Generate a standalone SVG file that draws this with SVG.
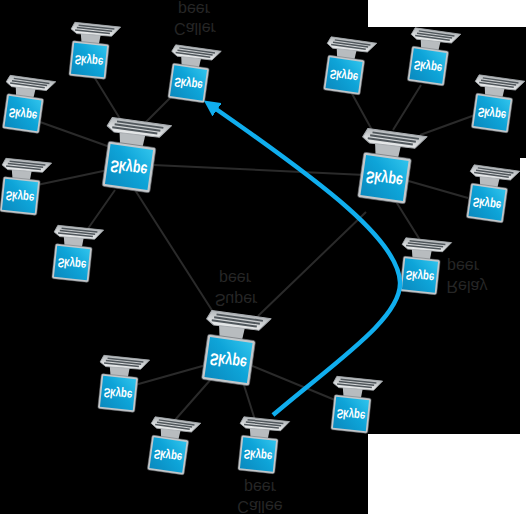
<svg xmlns="http://www.w3.org/2000/svg" xmlns:xlink="http://www.w3.org/1999/xlink" width="526" height="514" viewBox="0 0 526 514">
<style>
.c{stroke:#2a2a2a;stroke-width:2;fill:none}
.lbl{font:16px "Liberation Sans",Arial,sans-serif;fill:#262626;text-anchor:middle}
.sk{font:bold 10.500px "Liberation Sans",Arial,sans-serif;fill:#fff;text-anchor:middle}
</style>
<defs>
<linearGradient id="scr" x1="0" y1="1" x2="1" y2="0"><stop offset="0" stop-color="#0a88bd"/><stop offset=".55" stop-color="#0ea4d8"/><stop offset="1" stop-color="#33c6ee"/></linearGradient>
<linearGradient id="pan" x1="0" y1="0" x2="0" y2="1"><stop offset="0" stop-color="#b4b8bb"/><stop offset="1" stop-color="#eceeef"/></linearGradient>
<g id="pc">
<path d="M-11-26H9L8-15H-9Z" fill="#b8bcbf"/>
<path d="M-18-36L28-36 20-26-15-25-21-29Z" fill="url(#pan)" stroke="#a8acb0" stroke-width=".8" stroke-linejoin="round"/>
<path d="M-14-33.500L22-33.500M-15.500-31L20-31M-17-28.500L18-28.500" stroke="#50575c" stroke-width="1.500" fill="none"/>
<rect x="-17.500" y="-16.500" width="35" height="33" rx="1" fill="url(#scr)" stroke="#c4c8cb" stroke-width="2"/>
<rect x="-18.500" y="-17.500" width="37" height="35" rx="1.500" fill="none" stroke="#6a6e72" stroke-width=".5"/>
</g>
<marker id="ah" markerWidth="3.600" markerHeight="3.600" refX="0.500" refY="3" orient="auto" markerUnits="strokeWidth" viewBox="0 0 6 6"><path d="M0 0L6 3 0 6Z" fill="#10aeee"/></marker>
</defs>
<rect width="526" height="514" fill="#000"/>
<path d="M368 0H526V27H368ZM520 158H526V434H520ZM368 434H526V514H368Z" fill="#fff"/>
<g id="connectors">
<path class="c" d="M93 75L122 122M172 96L140 128M40 122L110 147M37 185L108 170M80 240L115 190M153 165L365 175M135 190L215 315M366 212L258 316M350 90L372 130M421 85L393 130M475 115L420 135M468 198L405 180M395 200L420 240M135 385L206 365M175 420L212 378M255 420L243 382M335 400L250 365"/>
</g>
<g id="A1" transform="translate(89 60) rotate(6)"><use href="#pc"/><text class="sk" transform="translate(0 -3.500) scale(.92 -1.250)">Skype</text></g>
<g id="Caller" transform="translate(188.500 83) rotate(8)"><use href="#pc"/><text class="sk" transform="translate(0 -3.500) scale(.92 -1.250)">Skype</text></g>
<g id="L3" transform="translate(23 113.500) rotate(8)"><use href="#pc"/><text class="sk" transform="translate(0 -3.500) scale(.92 -1.250)">Skype</text></g>
<g id="L4" transform="translate(20 196) rotate(6)"><use href="#pc"/><text class="sk" transform="translate(0 -3.500) scale(.92 -1.250)">Skype</text></g>
<g id="L5" transform="translate(72 263) rotate(6)"><use href="#pc"/><text class="sk" transform="translate(0 -3.500) scale(.92 -1.250)">Skype</text></g>
<g id="BigL" transform="translate(129 167) rotate(8) scale(1.300)"><use href="#pc"/><text class="sk" transform="translate(0 -3.500) scale(.92 -1.250)">Skype</text></g>
<g id="R1" transform="translate(344 75) rotate(8)"><use href="#pc"/><text class="sk" transform="translate(0 -3.500) scale(.92 -1.250)">Skype</text></g>
<g id="R2" transform="translate(428 66) rotate(8)"><use href="#pc"/><text class="sk" transform="translate(0 -3.500) scale(.92 -1.250)">Skype</text></g>
<g id="R3" transform="translate(492 113) rotate(8)"><use href="#pc"/><text class="sk" transform="translate(0 -3.500) scale(.92 -1.250)">Skype</text></g>
<g id="R4" transform="translate(487 203) rotate(8)"><use href="#pc"/><text class="sk" transform="translate(0 -3.500) scale(.92 -1.250)">Skype</text></g>
<g id="BigR" transform="translate(384.500 178) rotate(8) scale(1.300)"><use href="#pc"/><text class="sk" transform="translate(0 -3.500) scale(.92 -1.250)">Skype</text></g>
<g id="Relay" transform="translate(420 275.500) rotate(6)"><use href="#pc"/><text class="sk" transform="translate(0 -3.500) scale(.92 -1.250)">Skype</text></g>
<g id="BigB" transform="translate(228.500 360) rotate(8) scale(1.300)"><use href="#pc"/><text class="sk" transform="translate(0 -3.500) scale(.92 -1.250)">Skype</text></g>
<g id="B1" transform="translate(118 393) rotate(6)"><use href="#pc"/><text class="sk" transform="translate(0 -3.500) scale(.92 -1.250)">Skype</text></g>
<g id="B2" transform="translate(168 455) rotate(8)"><use href="#pc"/><text class="sk" transform="translate(0 -3.500) scale(.92 -1.250)">Skype</text></g>
<g id="Callee" transform="translate(258 454.500) rotate(6)"><use href="#pc"/><text class="sk" transform="translate(0 -3.500) scale(.92 -1.250)">Skype</text></g>
<g id="B3" transform="translate(351 414) rotate(6)"><use href="#pc"/><text class="sk" transform="translate(0 -3.500) scale(.92 -1.250)">Skype</text></g>
<g id="labels">
<text class="lbl" transform="translate(194 4) scale(1 -1)">peer</text>
<text class="lbl" transform="translate(195 23) scale(1 -1)">Caller</text>
<text class="lbl" transform="translate(235 273) scale(1 -1)">peer</text>
<text class="lbl" transform="translate(236 294) scale(1 -1)">Super</text>
<text class="lbl" transform="translate(260 482) scale(1 -1)">peer</text>
<text class="lbl" transform="translate(260 501) scale(1 -1)">Callee</text>
<text class="lbl" transform="translate(463 261) scale(1 -1)">peer</text>
<text class="lbl" transform="translate(467 281) scale(1 -1)">Relay</text>
</g>
<g id="arrow"><path d="M273 415C335 362 402 318 400 282C398 240 325 185 216 109" fill="none" stroke="#10aeee" stroke-width="4.500" marker-end="url(#ah)"/></g>
</svg>
